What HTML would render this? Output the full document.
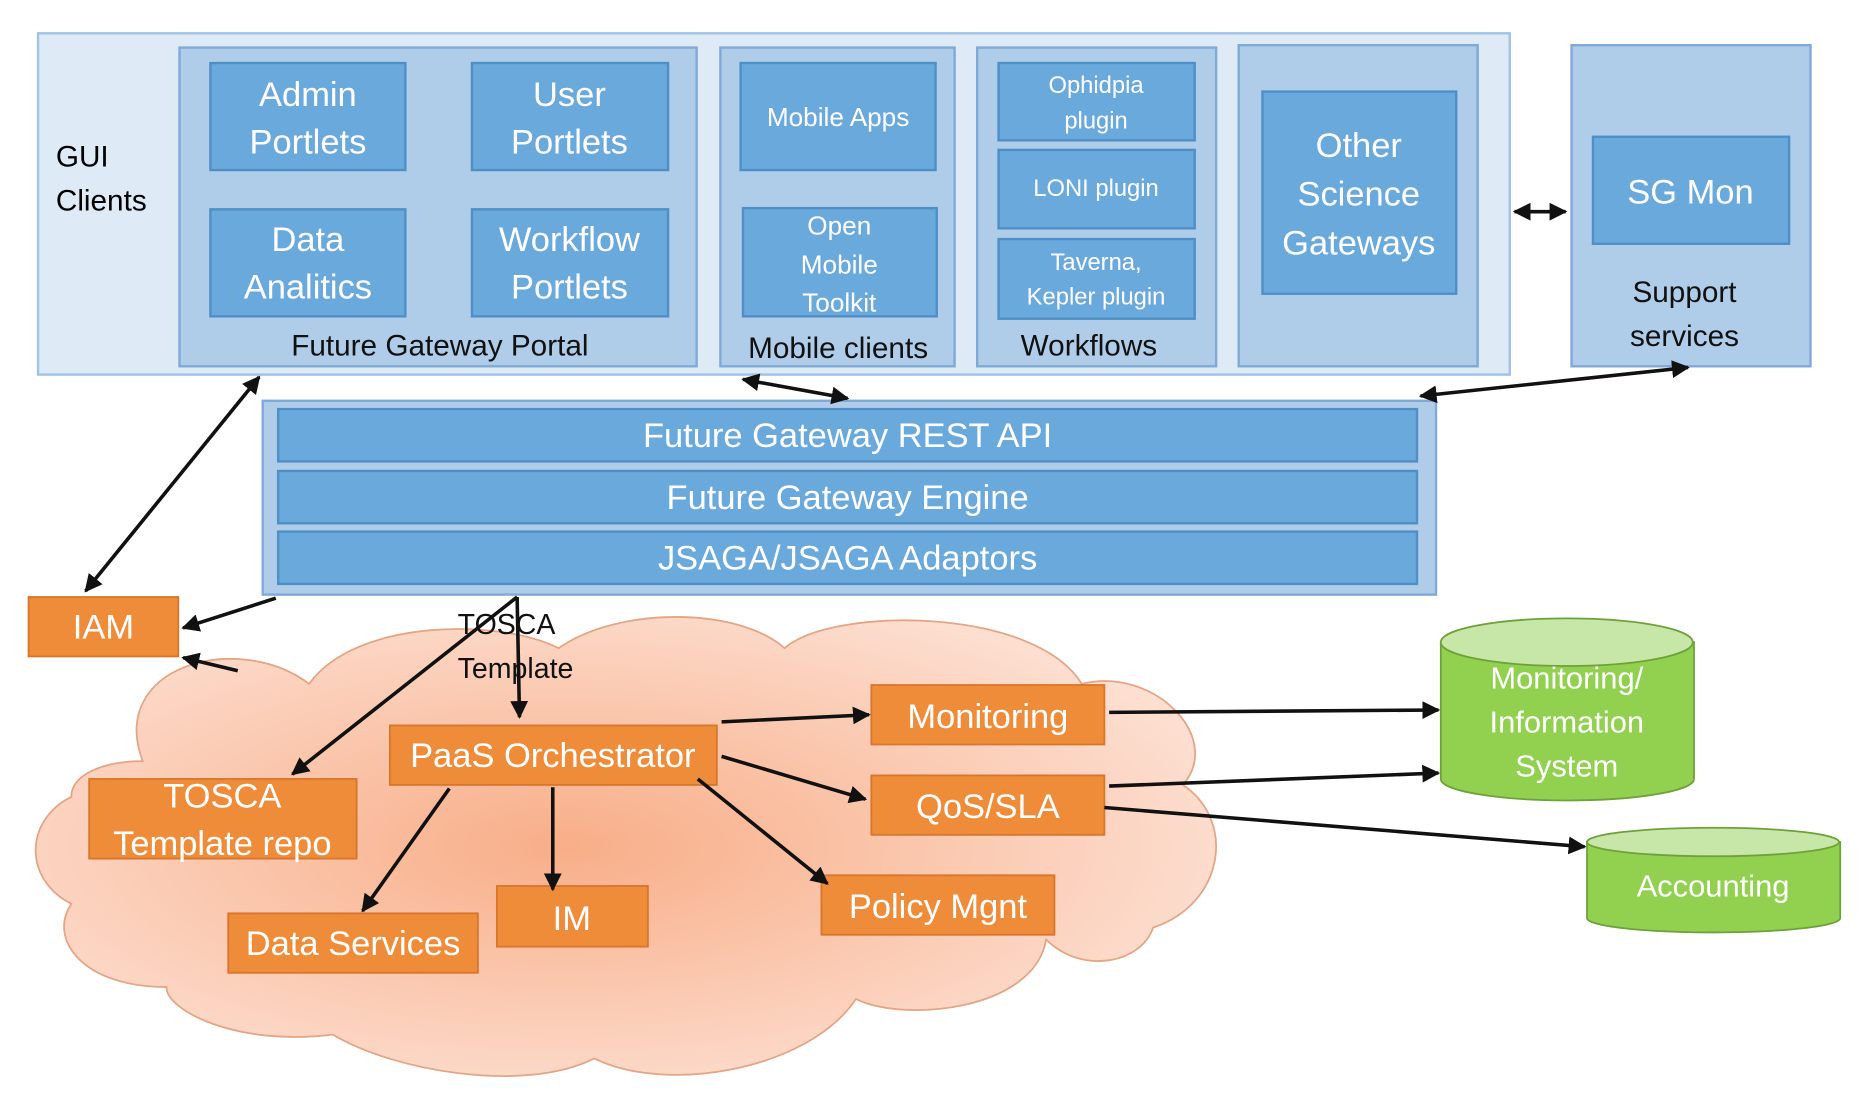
<!DOCTYPE html>
<html><head><meta charset="utf-8"><style>
html,body{margin:0;padding:0;background:#fff;width:1864px;height:1106px;overflow:hidden}
svg{display:block}
text{font-family:"Liberation Sans",sans-serif}
.w{fill:#fff}
.b{fill:#111}
</style></head><body>
<svg width="1864" height="1106" viewBox="0 0 1568 930" preserveAspectRatio="none" xmlns="http://www.w3.org/2000/svg">
<defs>
<marker id="a" viewBox="0 0 10 10" refX="9" refY="5" markerWidth="5" markerHeight="5" orient="auto-start-reverse"><path d="M0,0L10,5L0,10z" fill="#111"/></marker>
<radialGradient id="cg" cx="0.45" cy="0.5" r="0.6"><stop offset="0" stop-color="#f8ae88"/><stop offset="1" stop-color="#fde0d3"/></radialGradient>
</defs>
<!-- top area -->
<rect x="32" y="28" width="1238" height="287" fill="#deebf7" stroke="#9dc3e6" stroke-width="2"/>
<text x="47" y="140" font-size="25">GUI</text>
<text x="47" y="177" font-size="25">Clients</text>
<g fill="#afcde9" stroke="#7fa9d6" stroke-width="2">
<rect x="151" y="40" width="435" height="268"/>
<rect x="606" y="40" width="197" height="268"/>
<rect x="822" y="40" width="201" height="268"/>
<rect x="1042" y="38" width="201" height="270"/>
<rect x="1322" y="38" width="201" height="270"/>
</g>
<g fill="#6aa9dc" stroke="#4f8fc6" stroke-width="2">
<rect x="177" y="53" width="164" height="90"/>
<rect x="397" y="53" width="165" height="90"/>
<rect x="177" y="176" width="164" height="90"/>
<rect x="397" y="176" width="165" height="90"/>
<rect x="623" y="53" width="164" height="90"/>
<rect x="625" y="175" width="163" height="91"/>
<rect x="840" y="53" width="165" height="65"/>
<rect x="840" y="126" width="165" height="66"/>
<rect x="840" y="201" width="165" height="67"/>
<rect x="1062" y="77" width="163" height="170"/>
<rect x="1340" y="115" width="165" height="90"/>
</g>
<g class="w" text-anchor="middle" font-size="29">
<text x="259" y="89">Admin</text><text x="259" y="129">Portlets</text>
<text x="479" y="89">User</text><text x="479" y="129">Portlets</text>
<text x="259" y="211">Data</text><text x="259" y="251">Analitics</text>
<text x="479" y="211">Workflow</text><text x="479" y="251">Portlets</text>
<text x="705" y="106" font-size="22">Mobile Apps</text>
<text x="706" y="197" font-size="22">Open</text><text x="706" y="230" font-size="22">Mobile</text><text x="706" y="262" font-size="22">Toolkit</text>
<text x="922" y="78" font-size="20">Ophidpia</text><text x="922" y="108" font-size="20">plugin</text>
<text x="922" y="165" font-size="20">LONI plugin</text>
<text x="922" y="227" font-size="20">Taverna,</text><text x="922" y="256" font-size="20">Kepler plugin</text>
<text x="1143" y="132">Other</text><text x="1143" y="173">Science</text><text x="1143" y="214">Gateways</text>
<text x="1422" y="171">SG Mon</text>
</g>
<g class="b" text-anchor="middle" font-size="25">
<text x="370" y="299">Future Gateway Portal</text>
<text x="705" y="301">Mobile clients</text>
<text x="916" y="299">Workflows</text>
<text x="1417" y="254">Support</text>
<text x="1417" y="291">services</text>
</g>
<!-- API block -->
<rect x="221" y="337" width="987" height="163" fill="#afcde9" stroke="#7fa9d6" stroke-width="2"/>
<g fill="#6aa9dc" stroke="#4f8fc6" stroke-width="2">
<rect x="234" y="344" width="958" height="44"/>
<rect x="234" y="396" width="958" height="44"/>
<rect x="234" y="447" width="958" height="44"/>
</g>
<g class="w" text-anchor="middle" font-size="29">
<text x="713" y="376">Future Gateway REST API</text>
<text x="713" y="428">Future Gateway Engine</text>
<text x="713" y="479">JSAGA/JSAGA Adaptors</text>
</g>
<!-- cloud -->
<g fill="url(#cg)" stroke="#e4a584" stroke-width="1.5">
<path d="M120,640 C90,560 200,530 260,575 C300,520 420,520 470,545 C520,510 620,510 660,545 C700,510 870,510 910,575 C970,560 1030,620 995,660 C1040,690 1030,760 970,780 C960,810 910,820 880,790 C870,850 760,860 720,840 C680,900 560,920 500,890 C440,920 330,900 280,870 C200,880 140,850 140,830 C70,830 40,790 60,760 C20,740 20,690 60,670 C60,650 90,640 120,640 Z"/>
</g>
<!-- orange boxes -->
<g fill="#ef8c3a" stroke="#d7752a" stroke-width="1.5">
<rect x="24" y="502" width="126" height="50"/>
<rect x="328" y="610" width="275" height="50"/>
<rect x="733" y="576" width="196" height="50"/>
<rect x="733" y="652" width="196" height="50"/>
<rect x="75" y="655" width="225" height="67"/>
<rect x="192" y="768" width="210" height="50"/>
<rect x="418" y="745" width="127" height="51"/>
<rect x="691" y="736" width="196" height="50"/>
</g>
<g class="w" text-anchor="middle" font-size="29">
<text x="87" y="537">IAM</text>
<text x="465" y="645">PaaS Orchestrator</text>
<text x="831" y="612">Monitoring</text>
<text x="831" y="688">QoS/SLA</text>
<text x="187" y="679">TOSCA</text><text x="187" y="719">Template repo</text>
<text x="297" y="803">Data Services</text>
<text x="481" y="782">IM</text>
<text x="789" y="772">Policy Mgnt</text>
</g>
<text x="385" y="533" font-size="24" class="b">TOSCA</text>
<text x="385" y="570" font-size="24" class="b">Template</text>
<!-- cylinders -->
<g stroke="#6fa13a" stroke-width="1.5">
<path d="M1212,540 L1212,655 A106,18 0 0 0 1425,655 L1425,540 Z" fill="#92d050"/>
<ellipse cx="1318" cy="540" rx="106" ry="20" fill="#c7e7a8"/>
<path d="M1335,708 L1335,772 A106,12 0 0 0 1548,772 L1548,708 Z" fill="#92d050"/>
<ellipse cx="1441" cy="708" rx="106" ry="12" fill="#c7e7a8"/>
</g>
<g class="w" text-anchor="middle" font-size="26">
<text x="1318" y="579">Monitoring/</text>
<text x="1318" y="616">Information</text>
<text x="1318" y="653">System</text>
<text x="1441" y="754">Accounting</text>
</g>
<!-- arrows -->
<g stroke="#111" stroke-width="3" fill="none">
<line x1="1274" y1="178" x2="1317" y2="178" marker-start="url(#a)" marker-end="url(#a)"/>
<line x1="625" y1="319" x2="713" y2="335" marker-start="url(#a)" marker-end="url(#a)"/>
<line x1="1195" y1="333" x2="1420" y2="309" marker-start="url(#a)" marker-end="url(#a)"/>
<line x1="218" y1="317" x2="72" y2="497" marker-start="url(#a)" marker-end="url(#a)"/>
<line x1="232" y1="503" x2="154" y2="528" marker-end="url(#a)"/>
<line x1="200" y1="564" x2="154" y2="553" marker-end="url(#a)"/>
<line x1="435" y1="502" x2="437" y2="603" marker-end="url(#a)"/>
<line x1="435" y1="502" x2="246" y2="651" marker-end="url(#a)"/>
<line x1="607" y1="607" x2="731" y2="601" marker-end="url(#a)"/>
<line x1="607" y1="636" x2="728" y2="672" marker-end="url(#a)"/>
<line x1="587" y1="655" x2="696" y2="743" marker-end="url(#a)"/>
<line x1="465" y1="662" x2="465" y2="748" marker-end="url(#a)"/>
<line x1="378" y1="663" x2="305" y2="766" marker-end="url(#a)"/>
<line x1="933" y1="599" x2="1210" y2="597" marker-end="url(#a)"/>
<line x1="933" y1="661" x2="1210" y2="650" marker-end="url(#a)"/>
<line x1="929" y1="679" x2="1333" y2="712" marker-end="url(#a)"/>
</g>
</svg>
</body></html>
